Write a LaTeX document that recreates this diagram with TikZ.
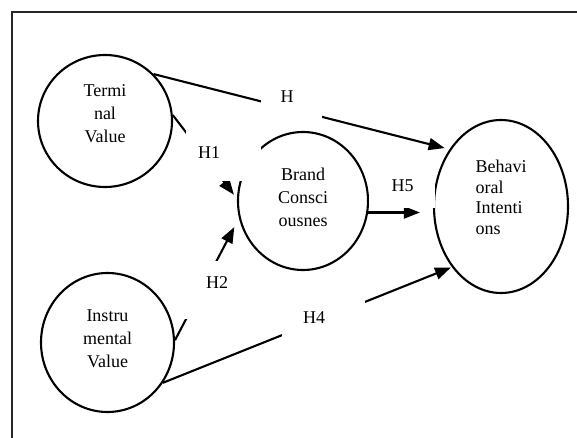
\documentclass[tikz,border=0pt]{standalone}
\usepackage{fontspec}
\setmainfont{Liberation Serif}
\usetikzlibrary{arrows.meta,shapes.geometric}
\begin{document}
\begin{tikzpicture}[x=1bp,y=-1bp,
   every node/.style={font=\fontsize{18bp}{23bp}\selectfont},
   var/.style={draw,ellipse,line width=2.1bp,inner sep=0pt,align=center},
   hyp/.style={line width=2.1bp,-{Triangle[length=16bp,width=12bp]}},
   mask/.style={fill=white}]
   \useasboundingbox (0,0) rectangle (577,438);
   \clip (0,0) rectangle (577,438);
   \draw [line width=2.2bp,black!85] (12,12) rectangle (600,460);
   \node [var,minimum width=134bp,minimum height=132bp,text depth=14bp] (term) at (105,121) {Termi\\nal\\Value};
   \node [var,minimum width=133bp,minimum height=139bp,text depth=7bp] (instr) at (107.5,342.5) {Instru\\mental\\Value};
   \node [var,minimum width=130bp,minimum height=138bp,text depth=8bp] (brand) at (303,201) {Brand\\Consci\\ousnes};
   \node [var,minimum width=134bp,minimum height=173bp,text depth=18bp,align=left,
      font=\fontsize{18bp}{20.5bp}\selectfont] (behav) at (501,206.5) {Behavi\\oral\\Intenti\\ons};
   \draw [hyp,shorten >=5bp] (term.44) -- (behav.132);
   \draw [hyp,shorten >=5bp] (term.5) -- (brand.178);
   \draw [hyp,shorten >=10bp] (instr.2) -- (brand.-165);
   \draw [hyp,shorten >=1bp] (instr.-36) -- (behav.-129);
   \draw [hyp,shorten <=-2bp,shorten >=13bp] (brand.-10) -- (brand.-10 -| behav.west);
   \fill [mask] (261,84) rectangle (322,126);
   \fill [mask] (186,128) rectangle (261,181);
   \fill [mask] (185,261) rectangle (248,319);
   \fill [mask] (282,292) rectangle (365,345);
   \fill [mask] (369,168) rectangle (435,208);
   \node (h3) at (287,96.5) {H};
   \node (h1) at (209,152.5) {H1};
   \node (h2) at (217,283) {H2};
   \node (h4) at (314,318) {H4};
   \node (h5) at (402.5,186) {H5};
\end{tikzpicture}
\end{document}
